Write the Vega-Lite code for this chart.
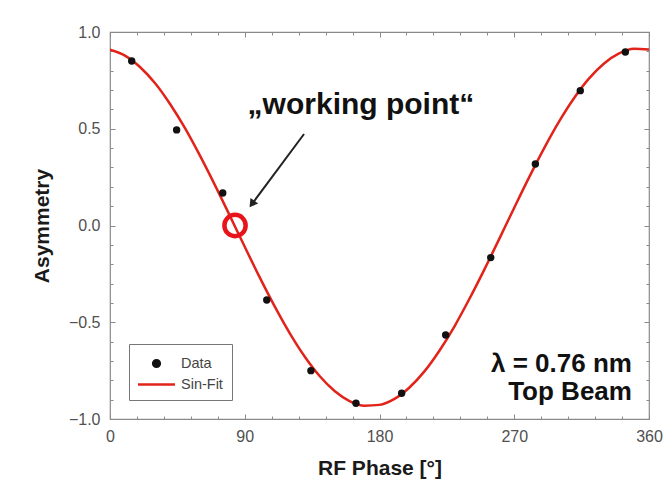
{
  "$schema": "https://vega.github.io/schema/vega-lite/v6.json",
  "width": 539,
  "height": 387,
  "autosize": {"type": "none"},
  "padding": {"left": 110, "top": 32, "right": 15, "bottom": 64},
  "background": "white",
  "config": {
    "font": "Liberation Sans",
    "view": {"stroke": "#8a8a8a", "strokeWidth": 1.2},
    "axis": {
      "grid": false,
      "domain": false,
      "labelFlush": false,
      "tickColor": "#8a8a8a",
      "tickWidth": 1,
      "labelColor": "#505050",
      "labelFont": "Liberation Sans",
      "labelFontSize": 16,
      "titleFont": "Liberation Sans",
      "titleFontSize": 21,
      "titleFontWeight": "bold",
      "titleColor": "#1a1a1a"
    }
  },
  "datasets": {
    "measured": [
      {"phase": 14.5, "asym": 0.85, "series": "Data"},
      {"phase": 44.5, "asym": 0.494, "series": "Data"},
      {"phase": 75.3, "asym": 0.168, "series": "Data"},
      {"phase": 104.7, "asym": -0.385, "series": "Data"},
      {"phase": 134.2, "asym": -0.75, "series": "Data"},
      {"phase": 164.3, "asym": -0.919, "series": "Data"},
      {"phase": 194.8, "asym": -0.867, "series": "Data"},
      {"phase": 224.2, "asym": -0.566, "series": "Data"},
      {"phase": 254.3, "asym": -0.166, "series": "Data"},
      {"phase": 284.1, "asym": 0.318, "series": "Data"},
      {"phase": 314.1, "asym": 0.697, "series": "Data"},
      {"phase": 344.2, "asym": 0.897, "series": "Data"}
    ],
    "fit": [
      {"phase": 0, "asym": 0.909, "series": "Sin-Fit"},
      {"phase": 10, "asym": 0.878, "series": "Sin-Fit"},
      {"phase": 20, "asym": 0.819, "series": "Sin-Fit"},
      {"phase": 30, "asym": 0.736, "series": "Sin-Fit"},
      {"phase": 40, "asym": 0.629, "series": "Sin-Fit"},
      {"phase": 50, "asym": 0.504, "series": "Sin-Fit"},
      {"phase": 60, "asym": 0.362, "series": "Sin-Fit"},
      {"phase": 70, "asym": 0.21, "series": "Sin-Fit"},
      {"phase": 80, "asym": 0.051, "series": "Sin-Fit"},
      {"phase": 90, "asym": -0.11, "series": "Sin-Fit"},
      {"phase": 100, "asym": -0.268, "series": "Sin-Fit"},
      {"phase": 110, "asym": -0.418, "series": "Sin-Fit"},
      {"phase": 120, "asym": -0.556, "series": "Sin-Fit"},
      {"phase": 130, "asym": -0.677, "series": "Sin-Fit"},
      {"phase": 140, "asym": -0.778, "series": "Sin-Fit"},
      {"phase": 150, "asym": -0.855, "series": "Sin-Fit"},
      {"phase": 160, "asym": -0.907, "series": "Sin-Fit"},
      {"phase": 170, "asym": -0.931, "series": "Sin-Fit"},
      {"phase": 180, "asym": -0.927, "series": "Sin-Fit"},
      {"phase": 190, "asym": -0.896, "series": "Sin-Fit"},
      {"phase": 200, "asym": -0.837, "series": "Sin-Fit"},
      {"phase": 210, "asym": -0.754, "series": "Sin-Fit"},
      {"phase": 220, "asym": -0.647, "series": "Sin-Fit"},
      {"phase": 230, "asym": -0.522, "series": "Sin-Fit"},
      {"phase": 240, "asym": -0.38, "series": "Sin-Fit"},
      {"phase": 250, "asym": -0.228, "series": "Sin-Fit"},
      {"phase": 260, "asym": -0.069, "series": "Sin-Fit"},
      {"phase": 270, "asym": 0.092, "series": "Sin-Fit"},
      {"phase": 280, "asym": 0.25, "series": "Sin-Fit"},
      {"phase": 290, "asym": 0.4, "series": "Sin-Fit"},
      {"phase": 300, "asym": 0.538, "series": "Sin-Fit"},
      {"phase": 310, "asym": 0.659, "series": "Sin-Fit"},
      {"phase": 320, "asym": 0.76, "series": "Sin-Fit"},
      {"phase": 330, "asym": 0.837, "series": "Sin-Fit"},
      {"phase": 340, "asym": 0.889, "series": "Sin-Fit"},
      {"phase": 350, "asym": 0.913, "series": "Sin-Fit"},
      {"phase": 360, "asym": 0.909, "series": "Sin-Fit"}
    ],
    "single": [{}]
  },
  "resolve": {"axis": {"x": "independent", "y": "independent"}},
  "layer": [
    {
      "data": {"name": "fit"},
      "mark": {"type": "line", "strokeWidth": 2.5, "interpolate": "monotone", "clip": true},
      "encoding": {
        "x": {
          "field": "phase", "type": "quantitative",
          "scale": {"domain": [0, 360], "nice": false, "zero": false},
          "axis": {"orient": "bottom", "values": [0, 90, 180, 270, 360], "tickSize": -5, "labelPadding": 14.5, "title": "RF Phase [°]", "titlePadding": 13}
        },
        "y": {
          "field": "asym", "type": "quantitative",
          "scale": {"domain": [-1, 1], "nice": false, "zero": false},
          "axis": {"orient": "left", "values": [-1, -0.5, 0, 0.5, 1], "format": ".1f", "tickSize": -5, "labelPadding": 15, "title": "Asymmetry", "titlePadding": 16}
        },
        "color": {
          "field": "series", "type": "nominal",
          "scale": {"domain": ["Data", "Sin-Fit"], "range": ["#111111", "#e2231a"]},
          "legend": {
            "orient": "none", "legendX": 19, "legendY": 312,
            "title": null, "strokeColor": "#777777", "fillColor": "white",
            "padding": 9, "labelFontSize": 14.5, "labelColor": "#444444", "labelFont": "Liberation Sans",
            "labelOffset": 14, "symbolOffset": 8, "rowPadding": 2, "symbolSize": 342, "symbolType": "M-2,0L2,0",
            "encode": {
              "symbols": {
                "update": {
                  "shape": {"signal": "datum.value === 'Data' ? 'circle' : 'M-2,0L2,0'"},
                  "size": {"signal": "datum.value === 'Data' ? 45 : 342"},
                  "fill": {"signal": "datum.value === 'Data' ? '#111111' : 'transparent'"},
                  "stroke": {"signal": "datum.value === 'Data' ? 'transparent' : '#e2231a'"},
                  "strokeWidth": {"value": 2.5},
                  "opacity": {"value": 1}
                }
              }
            }
          }
        }
      }
    },
    {
      "data": {"name": "measured"},
      "mark": {"type": "point", "filled": true, "opacity": 1, "size": 55, "shape": "circle"},
      "encoding": {
        "x": {
          "field": "phase", "type": "quantitative",
          "axis": {"orient": "bottom", "values": [18, 36, 54, 72, 108, 126, 144, 162, 198, 216, 234, 252, 288, 306, 324, 342], "tickSize": -3, "labels": false, "title": null}
        },
        "y": {
          "field": "asym", "type": "quantitative",
          "axis": {"orient": "left", "values": [-0.9, -0.8, -0.7, -0.6, -0.4, -0.3, -0.2, -0.1, 0.1, 0.2, 0.3, 0.4, 0.6, 0.7, 0.8, 0.9], "tickSize": -3, "labels": false, "title": null}
        },
        "color": {"field": "series", "type": "nominal"}
      }
    },
    {
      "data": {"name": "single"},
      "mark": {"type": "point", "shape": "circle", "filled": false, "stroke": "#e8141c", "strokeWidth": 4.5, "size": 452, "opacity": 1},
      "encoding": {
        "x": {"datum": 83.5, "type": "quantitative", "axis": {"orient": "top", "values": [0, 90, 180, 270, 360], "tickSize": -5, "labels": false, "title": null}},
        "y": {"datum": 0, "type": "quantitative", "axis": {"orient": "right", "values": [-1, -0.5, 0, 0.5, 1], "tickSize": -5, "labels": false, "title": null}}
      }
    },
    {
      "data": {"name": "single"},
      "mark": {"type": "rule", "stroke": "#222222", "strokeWidth": 2},
      "encoding": {
        "x": {"datum": 129.6, "type": "quantitative", "axis": {"orient": "top", "values": [18, 36, 54, 72, 108, 126, 144, 162, 198, 216, 234, 252, 288, 306, 324, 342], "tickSize": -3, "labels": false, "title": null}},
        "y": {"datum": 0.473, "type": "quantitative", "axis": {"orient": "right", "values": [-0.9, -0.8, -0.7, -0.6, -0.4, -0.3, -0.2, -0.1, 0.1, 0.2, 0.3, 0.4, 0.6, 0.7, 0.8, 0.9], "tickSize": -3, "labels": false, "title": null}},
        "x2": {"datum": 94.8},
        "y2": {"datum": 0.111}
      }
    },
    {
      "data": {"name": "single"},
      "mark": {"type": "point", "shape": "triangle-up", "filled": true, "color": "#222222", "opacity": 1, "size": 90, "angle": 215.5},
      "encoding": {
        "x": {"datum": 94.8, "type": "quantitative", "axis": null},
        "y": {"datum": 0.111, "type": "quantitative", "axis": null}
      }
    },
    {
      "data": {"name": "single"},
      "mark": {"type": "text", "text": "\u201eworking point\u201c", "font": "Liberation Sans", "fontSize": 30, "fontWeight": "bold", "color": "#111111", "align": "center", "baseline": "alphabetic"},
      "encoding": {
        "x": {"datum": 167.6, "type": "quantitative", "axis": null},
        "y": {"datum": 0.576, "type": "quantitative", "axis": null}
      }
    },
    {
      "data": {"name": "single"},
      "mark": {"type": "text", "text": "λ = 0.76 nm", "font": "Liberation Sans", "fontSize": 26, "fontWeight": "bold", "color": "#111111", "align": "right", "baseline": "alphabetic"},
      "encoding": {
        "x": {"datum": 348.6, "type": "quantitative", "axis": null},
        "y": {"datum": -0.757, "type": "quantitative", "axis": null}
      }
    },
    {
      "data": {"name": "single"},
      "mark": {"type": "text", "text": "Top Beam", "font": "Liberation Sans", "fontSize": 26, "fontWeight": "bold", "color": "#111111", "align": "right", "baseline": "alphabetic"},
      "encoding": {
        "x": {"datum": 348.6, "type": "quantitative", "axis": null},
        "y": {"datum": -0.902, "type": "quantitative", "axis": null}
      }
    }
  ]
}
